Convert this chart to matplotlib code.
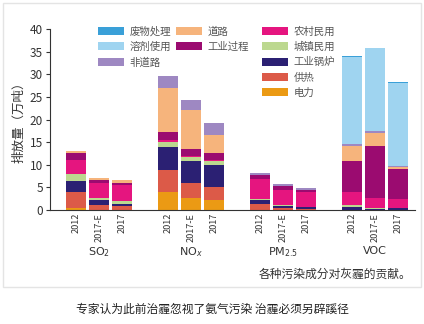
import numpy as np
import matplotlib
matplotlib.use("Agg")
import matplotlib.pyplot as plt
from matplotlib.patches import Patch, Rectangle

plt.rcParams['font.family'] = ['Noto Sans CJK SC', 'DejaVu Sans']

groups = ["SO$_2$", "NO$_x$", "PM$_{2.5}$", "VOC"]
years = ["2012", "2017-E", "2017"]

# stacking order, bottom -> top
sources = ["电力", "供热", "工业锅炉", "城镇民用", "农村民用",
           "工业过程", "道路", "非道路", "溶剂使用", "废物处理"]
colors = ["#eb9a14", "#dc5a48", "#2b2073", "#bcd88f", "#e5157f",
          "#9b0b70", "#f6b47c", "#9e88c2", "#9fd4f0", "#3aa0d8"]

# values per source: SO2(2012, 2017-E, 2017), NOx(...), PM2.5(...), VOC(...)
power     = [0.4, 0.1, 0.1,  4.0, 2.6, 2.1,  0.1, 0.0, 0.0,  0.0, 0.0, 0.0]
heating   = [3.6, 1.0, 0.8,  4.8, 3.4, 2.9,  1.3, 0.4, 0.3,  0.1, 0.1, 0.1]
ind_boil  = [2.3, 1.1, 0.5,  5.2, 4.8, 4.9,  0.8, 0.4, 0.3,  0.6, 0.2, 0.3]
urban     = [1.6, 0.4, 0.6,  1.1, 0.9, 0.9,  0.3, 0.2, 0.1,  0.4, 0.1, 0.1]
rural     = [3.2, 3.4, 3.5,  0.3, 0.3, 0.3,  4.3, 3.5, 3.3,  2.9, 2.2, 1.9]
ind_proc  = [1.4, 0.6, 0.5,  1.9, 1.5, 1.4,  0.9, 0.7, 0.5,  6.9, 11.5, 6.6]
road      = [0.5, 0.4, 0.6,  9.6, 8.7, 4.1,  0.0, 0.0, 0.0,  3.2, 3.0, 0.4]
nonroad   = [0.0, 0.0, 0.0,  2.7, 2.2, 2.7,  0.5, 0.6, 0.4,  0.4, 0.3, 0.3]
solvent   = [0.0, 0.0, 0.0,  0.0, 0.0, 0.0,  0.0, 0.0, 0.0,  19.3, 18.5, 18.4]
waste     = [0.0, 0.0, 0.0,  0.0, 0.0, 0.0,  0.0, 0.0, 0.0,  0.2, 0.0, 0.3]

values = [power, heating, ind_boil, urban, rural, ind_proc, road, nonroad, solvent, waste]

fig = plt.figure(figsize=(4.24, 3.24), dpi=100)
ax = fig.add_axes([0.118, 0.352, 0.861, 0.558])

# light frame around chart
fig.patches.append(Rectangle((3/424, 1 - 287/324), 418/424, 284/324,
                             transform=fig.transFigure, fill=False,
                             edgecolor="#e4e4e4", linewidth=1.0))

x = np.array([4 * g + i for g in range(len(groups)) for i in range(len(years))], dtype=float)
bottom = np.zeros(len(x))
for vals, col, name in zip(values, colors, sources):
    v = np.array(vals)
    ax.bar(x, v, bottom=bottom, width=0.85, color=col, linewidth=0, label=name)
    bottom += v

ax.set_xlim(-1.13, 14.74)
ax.set_ylim(0, 40)
ax.set_yticks(np.arange(0, 41, 5))
ax.tick_params(axis="y", labelsize=8.5, colors="#333333", length=3, width=0.8, pad=2)
ax.set_xticks(x)
ax.set_xticklabels(years * len(groups), rotation=90, fontsize=6.6, color="#333333")
ax.tick_params(axis="x", length=0, pad=2)
for s in ["top", "right"]:
    ax.spines[s].set_visible(False)
for s in ["left", "bottom"]:
    ax.spines[s].set_color("#333333")
    ax.spines[s].set_linewidth(0.8)

ax.set_ylabel("排放量（万吨）", fontsize=9, color="#333333", labelpad=3)

for g, name in enumerate(groups):
    ax.text(4 * g + 1, -7.9, name, ha="center", va="top", fontsize=8,
            color="#333333", family="DejaVu Sans")

# legend in three columns, same layout as the reference
cols = [[9, 8, 7], [6, 5], [4, 3, 2, 1, 0]]
anchors = [(93/424, 1 - 21/324), (171/424, 1 - 21/324), (257/424, 1 - 21/324)]
for idx_list, anc in zip(cols, anchors):
    handles = [Patch(facecolor=colors[k], edgecolor="none") for k in idx_list]
    labels = [sources[k] for k in idx_list]
    fig.legend(handles, labels, loc="upper left", bbox_to_anchor=anc,
               frameon=False, fontsize=7.5, handlelength=2.5, handleheight=0.8,
               handletextpad=0.5, labelspacing=0.5, borderpad=0,
               labelcolor="#555555")

fig.text(411/424, 1 - 274/324, "各种污染成分对灰霾的贡献。", ha="right", va="center",
         fontsize=8.5, color="#333333")
fig.text(212/424, 1 - 309/324, "专家认为此前治霾忽视了氨气污染 治霾必须另辟蹊径",
         ha="center", va="center", fontsize=8.5, color="#222222")

fig.savefig("out.png", dpi=100)
